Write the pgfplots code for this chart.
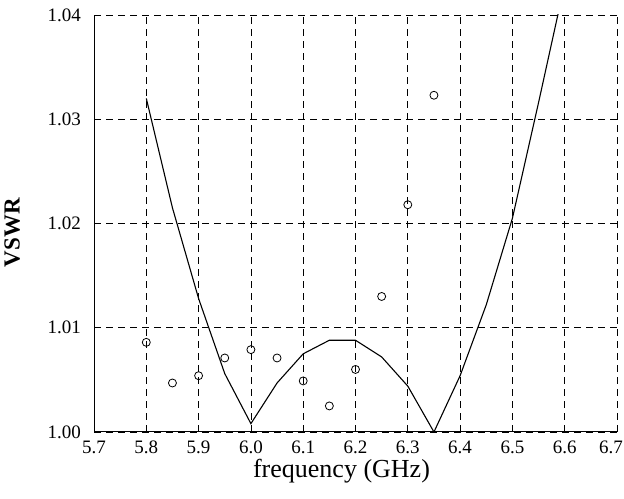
\documentclass[border=0pt]{standalone}
\usepackage{fontspec}
\setmainfont{Liberation Serif}
\usepackage{pgfplots}
\pgfplotsset{compat=1.18}

\begin{document}
\begin{tikzpicture}
\begin{axis}[
    scale only axis,
    width=261.5pt, height=208.5pt,
    xmin=5.7, xmax=6.7,
    ymin=1.00, ymax=1.04,
    xtick={5.7,5.8,5.9,6.0,6.1,6.2,6.3,6.4,6.5,6.6,6.7},
    xticklabels={5.7,5.8,5.9,6.0,6.1,6.2,6.3,6.4,6.5,6.6,\hspace*{-6pt}6.7},
    ytick={1.00,1.01,1.02,1.03,1.04},
    axis lines*=left,
    axis line style={line width=0.5pt},
    tick align=inside,
    major tick length=2pt,
    tick style={black, line width=0.4pt},
    grid=major,
    major grid style={black, line width=0.4pt, dash pattern=on 3.5pt off 2.5pt},
    yticklabel style={/pgf/number format/.cd, fixed, fixed zerofill, precision=2},
    /pgf/number format/assume math mode=true,
    tick label style={font=\fontsize{9.5}{10}\selectfont},
    xticklabel shift=1pt,
    yticklabel shift=3pt,
    xlabel={frequency (GHz)},
    ylabel={\textbf{VSWR}},
    xlabel style={font=\fontsize{13}{14}\selectfont, xshift=-7pt, yshift=4.5pt},
    ylabel style={font=\fontsize{11.5}{13}\selectfont, yshift=7pt, xshift=-4.5pt},
    clip=true,
]
% computed VSWR (solid line)
\addplot[black, line width=0.55pt, mark=none] coordinates {
    (5.80,1.0320) (5.85,1.0215) (5.90,1.0128) (5.95,1.0056)
    (6.00,1.0008) (6.05,1.0047) (6.10,1.0075) (6.15,1.0088)
    (6.20,1.0088) (6.25,1.0072) (6.30,1.0044) (6.35,1.0000)
    (6.40,1.0054) (6.45,1.0122) (6.50,1.0205) (6.55,1.0316)
    (6.60,1.0430)
};
% measured VSWR (circles)
\addplot[only marks, mark=o, mark size=2pt, black, line width=0.4pt] coordinates {
    (5.80,1.0086) (5.85,1.0047) (5.90,1.0054) (5.95,1.0071)
    (6.00,1.0079) (6.05,1.0071) (6.10,1.0049) (6.15,1.0025)
    (6.20,1.0060) (6.25,1.0130) (6.30,1.0218) (6.35,1.0323)
};
\coordinate (bl) at (rel axis cs:0,0);
\coordinate (tr) at (rel axis cs:1,1);
\end{axis}
\pgfresetboundingbox
\useasboundingbox ([xshift=-47pt,yshift=-33.5pt]bl) rectangle ([xshift=3.5pt,yshift=7.5pt]tr);
\end{tikzpicture}
\end{document}
